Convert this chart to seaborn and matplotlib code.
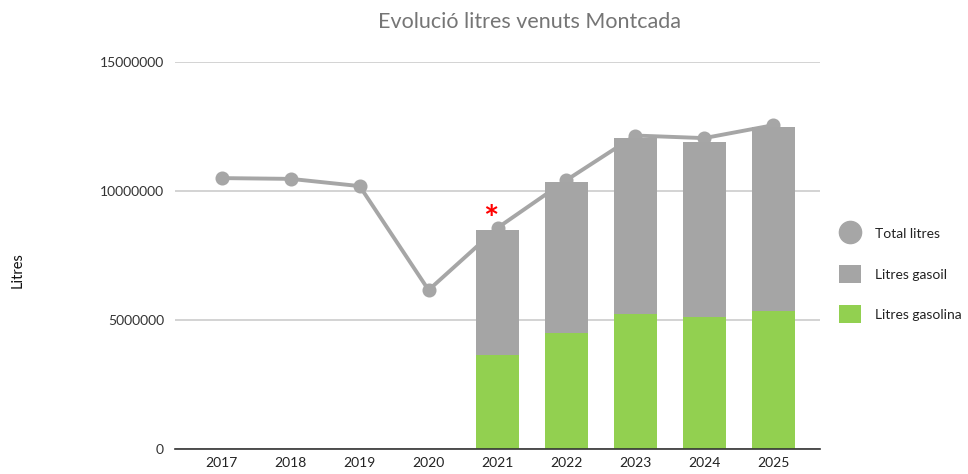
import matplotlib
matplotlib.use("Agg")
import matplotlib.pyplot as plt
import seaborn as sns
import numpy as np
import pandas as pd
from matplotlib.lines import Line2D
from matplotlib.patches import Patch

years = ["2017", "2018", "2019", "2020", "2021", "2022", "2023", "2024", "2025"]
total_litres = [10500000, 10470000, 10190000, 6160000, 8570000, 10420000, 12150000, 12050000, 12550000]
litres_gasolina = [np.nan, np.nan, np.nan, np.nan, 3640000, 4500000, 5230000, 5120000, 5350000]
litres_gasoil = [np.nan, np.nan, np.nan, np.nan, 4860000, 5850000, 6820000, 6780000, 7130000]
yticks = [0, 5000000, 10000000, 15000000]

sns.set_theme(style="white")
plt.rcParams['font.family'] = ['Lato', 'DejaVu Sans']

df = pd.DataFrame({
    "year": years,
    "total": total_litres,
    "gasolina": litres_gasolina,
    "gasoil": litres_gasoil,
})
df["stack"] = df["gasolina"] + df["gasoil"]

GRAY_LINE = "#A6A6A6"
GRAY_BAR = "#A5A5A5"
GREEN = "#92D050"

fig = plt.figure(figsize=(9.68, 4.74), dpi=100)
ax = fig.add_axes([175 / 968, 1 - 449 / 474, (820 - 175) / 968, (449 - 62) / 474])

sns.pointplot(data=df, x="year", y="total", order=years, color=GRAY_LINE,
              markers="o", markersize=8, linewidth=2.8, ax=ax, zorder=2)
for coll in ax.collections:
    coll.set_zorder(2)
for ln in ax.lines:
    ln.set_zorder(2)

sns.barplot(data=df, x="year", y="stack", order=years, color=GRAY_BAR,
            width=0.62, saturation=1, ax=ax, zorder=3, errorbar=None)
sns.barplot(data=df, x="year", y="gasolina", order=years, color=GREEN,
            width=0.62, saturation=1, ax=ax, zorder=4, errorbar=None)
for p in ax.patches:
    p.set_linewidth(0)

ax.set_xlim(-0.68, 8.68)
ax.set_ylim(0, 15000000)
ax.set_yticks(yticks)
ax.set_yticklabels([str(v) for v in yticks], fontsize=10, color="#333333")
ax.tick_params(axis="x", labelsize=10, colors="#222222", length=0, pad=6)
ax.tick_params(axis="y", length=0, pad=8)
ax.grid(axis="y", color="#CCCCCC", linewidth=1.2, zorder=0)
ax.set_axisbelow(True)
for s in ["top", "right", "left"]:
    ax.spines[s].set_visible(False)
ax.spines["bottom"].set_color("#333333")
ax.spines["bottom"].set_linewidth(1.2)
ax.spines["bottom"].set_zorder(5)
ax.set_xlabel("")
ax.set_ylabel("")

fig.text(18 / 968, 1 - 270 / 474, "Litres", rotation=90, ha="center", va="center",
         fontsize=10.5, color="#111111")
fig.text(530 / 968, 1 - 22 / 474, "Evolució litres venuts Montcada", ha="center", va="center",
         fontsize=15.5, color="#757575")

ax.text(4 - 0.09, 8570000 + 300000, "*", color="#FF0000", fontsize=26, fontweight="bold",
        ha="center", va="center", zorder=6)

handles = [
    Line2D([0], [0], marker="o", linestyle="none", markersize=16,
           markerfacecolor=GRAY_LINE, markeredgecolor=GRAY_LINE),
    Patch(facecolor=GRAY_BAR, edgecolor="none"),
    Patch(facecolor=GREEN, edgecolor="none"),
]
fig.legend(handles, ["Total litres", "Litres gasoil", "Litres gasolina"],
           loc="center left", bbox_to_anchor=(826 / 968, 1 - 274 / 474),
           frameon=False, fontsize=10, labelspacing=1.6, handlelength=1.6,
           handleheight=1.6, handletextpad=1.0, labelcolor="#222222")

fig.savefig("out.png", dpi=100)
